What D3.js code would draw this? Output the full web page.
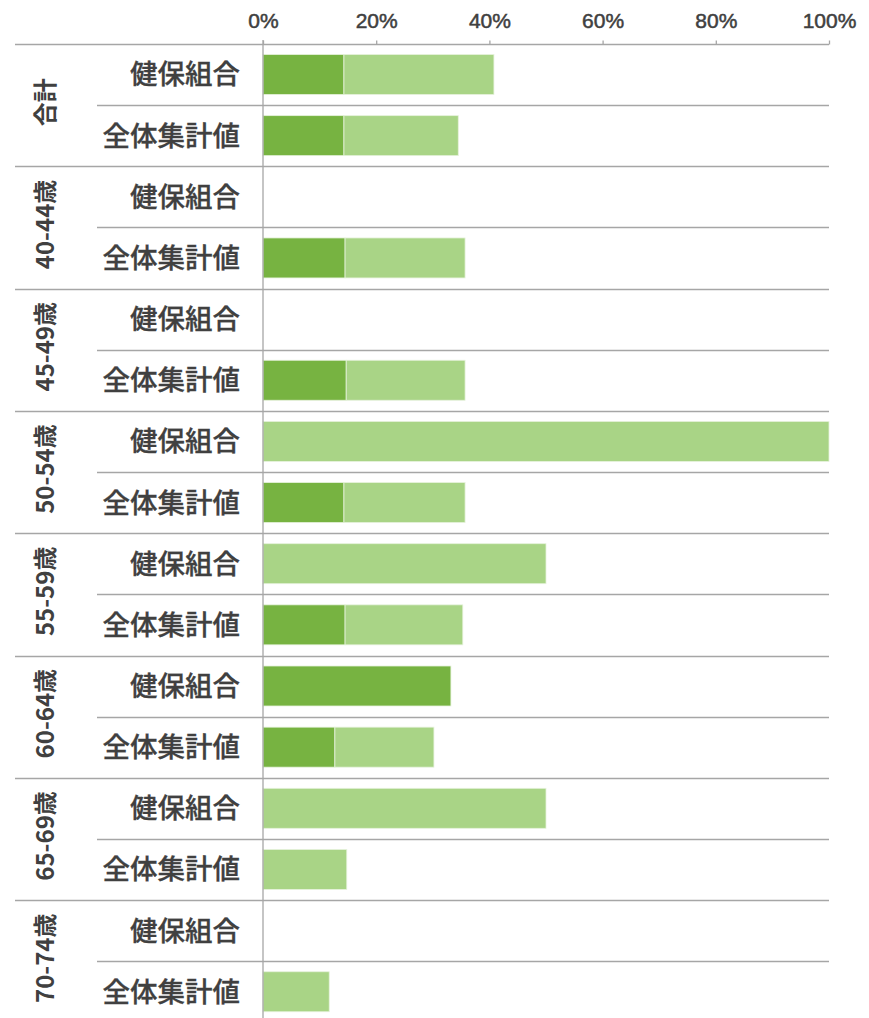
<!DOCTYPE html>
<html>
<head>
<meta charset="utf-8">
<script src="https://cdn.jsdelivr.net/npm/d3@7"></script>
<style>
  body { margin: 0; background: #fff; }
  text { fill: #404040; font-family: "Liberation Sans", "Noto Sans CJK JP", sans-serif; }
  .cjk { font-family: "Noto Sans CJK JP", sans-serif; }
</style>
</head>
<body>
<svg width="869" height="1018"></svg>
<script>
// age groups (outer category)
var groups = ["合計", "40-44歳", "45-49歳", "50-54歳", "55-59歳", "60-64歳", "65-69歳", "70-74歳"];
// sub rows inside each group
var subRows = ["健保組合", "全体集計値"];
// series values in %, one entry per group
var kenpoDark  = [14.3, null, null, 0,   0,  33.2, 0,  null];
var kenpoLight = [26.5, null, null, 100, 50, 0,    50, null];
var zentaiDark  = [14.3, 14.5, 14.7, 14.3, 14.5, 12.7, 0,    0];
var zentaiLight = [20.2, 21.2, 21.0, 21.4, 20.8, 17.5, 14.8, 11.7];
var ticks = [0, 20, 40, 60, 80, 100];

var colors = ["#77b341", "#a9d486"];
var gridColor = "#a6a6a6";

// flatten rows
var rows = [];
groups.forEach(function(g, i) {
  rows.push({ group: g, sub: subRows[0], vals: [kenpoDark[i], kenpoLight[i]] });
  rows.push({ group: g, sub: subRows[1], vals: [zentaiDark[i], zentaiLight[i]] });
});

var svg = d3.select("svg");
var topY = 44, rowH = 61.15;

var x = d3.scaleLinear().domain([0, 100]).range([263, 829]);
var y = d3.scaleBand()
  .domain(d3.range(rows.length))
  .range([topY, topY + rowH * rows.length])
  .paddingInner(0).paddingOuter(0);

// grid lines between rows
svg.append("g").selectAll("line")
  .data(d3.range(rows.length))
  .enter().append("line")
  .attr("x1", function(i) { return i % 2 === 0 ? 15 : 97; })
  .attr("x2", x(100))
  .attr("y1", function(i) { return Math.round(y(i)) + 0.5; })
  .attr("y2", function(i) { return Math.round(y(i)) + 0.5; })
  .attr("stroke", gridColor)
  .attr("stroke-width", 1.3);

// bars
var bar = svg.append("g").selectAll("g")
  .data(rows)
  .enter().append("g");

bar.each(function(d, i) {
  var g = d3.select(this);
  var start = 0;
  d.vals.forEach(function(v, k) {
    if (v == null || v === 0) return;
    g.append("rect")
      .attr("x", x(start))
      .attr("y", y(i) + 10.5)
      .attr("width", x(start + v) - x(start))
      .attr("height", 40)
      .attr("fill", colors[k])
      .attr("stroke", "#e6f2dc")
      .attr("stroke-width", 0.8);
    start += v;
  });
});

// value axis at the top
var axis = d3.axisTop(x)
  .tickValues(ticks)
  .tickFormat(function(d) { return d + "%"; })
  .tickSize(4)
  .tickPadding(13);

var ax = svg.append("g")
  .attr("transform", "translate(0," + (topY + 0.5) + ")")
  .call(axis);
ax.select(".domain").remove();
ax.selectAll(".tick line").attr("stroke", gridColor).attr("stroke-width", 1.3);
ax.selectAll(".tick text")
  .attr("fill", "#404040")
  .attr("stroke", "#404040")
  .attr("stroke-width", 0.5)
  .style("font-size", "21px")
  .style("font-family", "'Liberation Sans', sans-serif");

// vertical base line
svg.append("line")
  .attr("x1", x(0)).attr("x2", x(0))
  .attr("y1", topY - 4).attr("y2", 1018)
  .attr("stroke", gridColor)
  .attr("stroke-width", 1.3);

// sub row labels
svg.append("g").selectAll("text")
  .data(rows)
  .enter().append("text")
  .attr("class", "cjk")
  .attr("x", 240)
  .attr("y", function(d, i) { return y(i) + rowH / 2; })
  .attr("dy", "0.36em")
  .attr("text-anchor", "end")
  .attr("stroke", "#404040")
  .attr("stroke-width", 0.3)
  .style("font-size", "27.5px")
  .style("font-weight", 500)
  .text(function(d) { return d.sub; });

// group labels, rotated
svg.append("g").selectAll("text")
  .data(groups)
  .enter().append("text")
  .attr("class", "cjk")
  .attr("transform", function(d, i) {
    return "translate(45," + (y(i * 2) + rowH - 3) + ") rotate(-90)";
  })
  .attr("dy", "0.36em")
  .attr("text-anchor", "middle")
  .style("font-size", "24px")
  .style("font-weight", "bold")
  .text(function(d) { return d; });
</script>
</body>
</html>
